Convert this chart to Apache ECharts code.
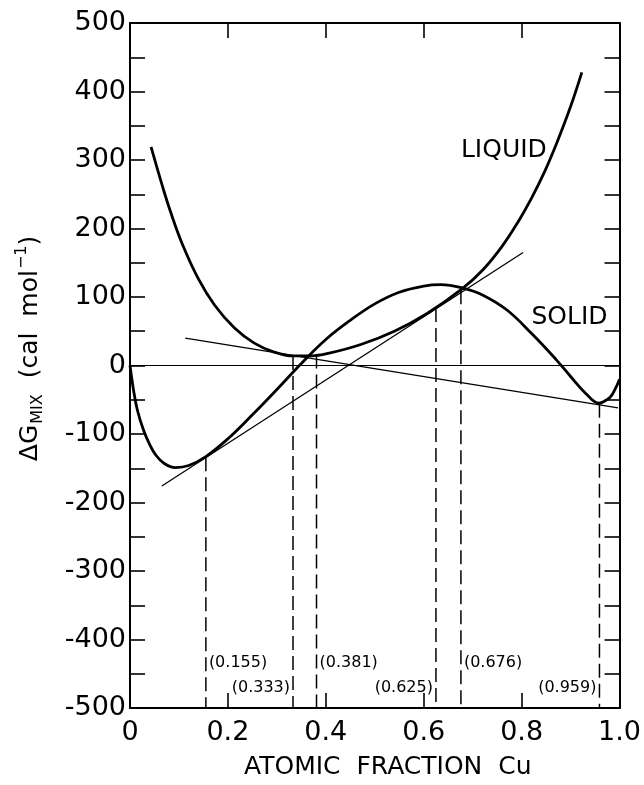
<!DOCTYPE html>
<html><head><meta charset="utf-8">
<script src="https://cdn.jsdelivr.net/npm/echarts@6/dist/echarts.min.js"></script>
<style>html,body{margin:0;padding:0;background:#fff}#c{width:644px;height:785px}</style>
</head><body><div id="c"></div>
<script>
// ---- data ----
const solidX = [0, 0.007, 0.015, 0.027, 0.04, 0.053, 0.07, 0.093, 0.12, 0.155, 0.2, 0.25, 0.3, 0.35, 0.4, 0.45, 0.5, 0.55, 0.6, 0.635, 0.68, 0.72, 0.77, 0.82, 0.87, 0.9, 0.93, 0.958, 0.98, 0.99, 1.0];
const solidY = [0, -35, -65, -93, -115, -131, -143, -149, -146, -133, -107, -72, -35, 3, 38, 66, 90, 107, 116, 118, 113, 103, 81, 47, 9, -16, -40, -55, -47, -36, -20];
const liquidX = [0.043, 0.067, 0.083, 0.107, 0.14, 0.173, 0.213, 0.253, 0.293, 0.333, 0.37, 0.407, 0.473, 0.54, 0.607, 0.677, 0.72, 0.76, 0.793, 0.82, 0.847, 0.873, 0.9, 0.923];
const liquidY = [319, 260, 224, 177, 126, 88, 55, 33, 20, 14, 14, 18, 31, 50, 76, 111, 139, 174, 210, 244, 283, 327, 378, 428];
const tangentAX = [0.065, 0.803];
const tangentAY = [-176, 165];
const tangentBX = [0.113, 0.997];
const tangentBY = [40, -62];
const zeroX = [0, 1];
const zeroY = [0, 0];
const dropX = [0.155, 0.333, 0.381, 0.625, 0.676, 0.959];
const dropTopY = [-134, 14, 16, 84, 110, -56];
const dropLabels = ['(0.155)', '(0.333)', '(0.381)', '(0.625)', '(0.676)', '(0.959)'];
const curveNames = ['LIQUID', 'SOLID'];
const curveLabelX = [0.676, 0.82];
const curveLabelY = [314, 70];
const xTickLabels = ['0', '0.2', '0.4', '0.6', '0.8', '1.0'];
const yTickLabels = ['-500', '-400', '-300', '-200', '-100', '0', '100', '200', '300', '400', '500'];
const xTitle = 'ATOMIC  FRACTION  Cu';

const FONT = 'DejaVu Sans';
const pairs = (xs, ys) => xs.map((x, i) => [x, ys[i]]);

const chart = echarts.init(document.getElementById('c'), null, {renderer: 'canvas'});

const lineCommon = {type: 'line', xAxisIndex: 0, yAxisIndex: 0, showSymbol: false, symbol: 'none', silent: true, z: 3};

const series = [
  Object.assign({}, lineCommon, {data: pairs(zeroX, zeroY), lineStyle: {color: '#000', width: 1.1}}),
  Object.assign({}, lineCommon, {data: pairs(tangentAX, tangentAY), lineStyle: {color: '#000', width: 1.3}}),
  Object.assign({}, lineCommon, {data: pairs(tangentBX, tangentBY), lineStyle: {color: '#000', width: 1.3}}),
  Object.assign({}, lineCommon, {data: pairs(solidX, solidY), smooth: 0.4, lineStyle: {color: '#000', width: 2.8}, z: 4}),
  Object.assign({}, lineCommon, {data: pairs(liquidX, liquidY), smooth: 0.4, lineStyle: {color: '#000', width: 2.8}, z: 4})
];
dropX.forEach((x, i) => {
  series.push(Object.assign({}, lineCommon, {
    data: [[x, dropTopY[i]], [x, -500]],
    lineStyle: {color: '#000', width: 1.5, type: [14, 6]}
  }));
});
// drop labels: alternating right (upper row) / left (lower row)
series.push({
  type: 'scatter', symbolSize: 0, silent: true, z: 5, itemStyle: {opacity: 1},
  data: dropX.map((x, i) => ({
    value: [x, i % 2 === 0 ? -434 : -470],
    label: {show: true, formatter: dropLabels[i], position: i % 2 === 0 ? 'right' : 'left', distance: 3,
      fontFamily: FONT, fontSize: 16, color: '#000', opacity: 1}
  }))
});
series.push({
  type: 'scatter', symbolSize: 0, silent: true, z: 5, itemStyle: {opacity: 1},
  data: curveNames.map((n, i) => ({
    value: [curveLabelX[i], curveLabelY[i]],
    label: {show: true, formatter: n, position: 'right', distance: 0,
      fontFamily: FONT, fontSize: 25, color: '#000', opacity: 1}
  }))
});

const axisLineStyle = {show: true, onZero: false, lineStyle: {color: '#000', width: 2}};
const tickStyle = {show: true, inside: true, length: 15, lineStyle: {color: '#000', width: 1.6}};

const option = {
  animation: false,
  backgroundColor: '#fff',
  grid: {left: 130, right: 14, top: 23, bottom: 70, containLabel: false},
  xAxis: [
    {type: 'value', position: 'bottom', min: 0, max: 1, interval: 0.2,
      axisLine: axisLineStyle, axisTick: tickStyle, splitLine: {show: false},
      axisLabel: {margin: 11, fontFamily: FONT, fontSize: 27, color: '#000',
        formatter: v => xTickLabels[Math.round(v / 0.2)]},
      name: xTitle, nameLocation: 'middle', nameGap: 47,
      nameTextStyle: {fontFamily: FONT, fontSize: 25, color: '#000', padding: [0, 0, 0, 26]}},
    {type: 'value', position: 'top', min: 0, max: 1, interval: 0.2,
      axisLine: axisLineStyle, axisTick: tickStyle, splitLine: {show: false}, axisLabel: {show: false}}
  ],
  yAxis: [
    {type: 'value', position: 'left', min: -500, max: 500, interval: 50,
      axisLine: axisLineStyle, axisTick: tickStyle, splitLine: {show: false},
      axisLabel: {margin: 4, fontFamily: FONT, fontSize: 27, color: '#000',
        formatter: v => (Math.round(v) % 100 === 0 ? yTickLabels[Math.round((v + 500) / 100)] : '')},
      name: '{n|ΔG}{s|MIX}{n|  (cal  mol}{p|−1}{n|)}', nameLocation: 'middle', nameGap: 84,
      nameTextStyle: {color: '#000', padding: [0, 0, 0, 34],
        rich: {
          n: {fontFamily: FONT, fontSize: 25, color: '#000', lineHeight: 32},
          s: {fontFamily: FONT, fontSize: 16, color: '#000', lineHeight: 32, verticalAlign: 'bottom', padding: [10, 0, 0, 1]},
          p: {fontFamily: FONT, fontSize: 16, color: '#000', lineHeight: 32, verticalAlign: 'top', padding: [0, 0, 10, 1]}
        }}},
    {type: 'value', position: 'right', min: -500, max: 500, interval: 50,
      axisLine: axisLineStyle, axisTick: tickStyle, splitLine: {show: false}, axisLabel: {show: false}}
  ],
  series: series
};
chart.setOption(option);
</script>
</body></html>
